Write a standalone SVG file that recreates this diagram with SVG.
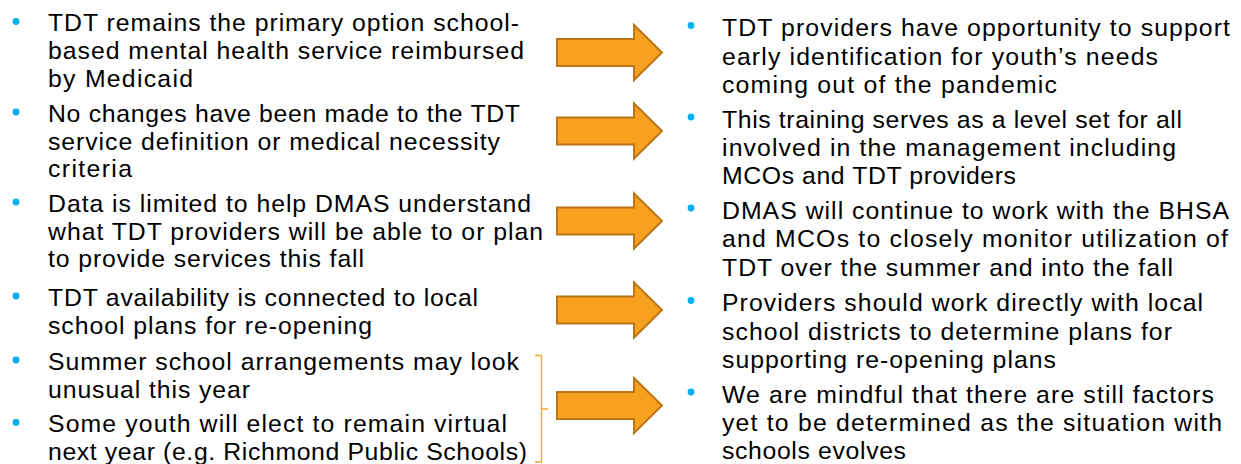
<svg xmlns="http://www.w3.org/2000/svg" width="1241" height="464" viewBox="0 0 1241 464">
<style>
text{font-family:"Liberation Sans",Arial,sans-serif;font-size:24.8px;fill:#000}
.b{fill:#00B0F0}
.arr{fill:#F8A11E;stroke:#BC7617;stroke-width:2;stroke-linejoin:miter}
.br{fill:none;stroke:#F5A33A;stroke-width:1.3}
</style>
<defs>
<path id="arrow" d="M0,-13.5 H77 V-27.5 L105,0 L77,27.5 V13.5 H0 Z"/>
</defs>
<rect width="1241" height="464" fill="#fff"/>
<g id="left-1"><circle class="b" cx="16" cy="21.5" r="3.4"/>
<text x="48" y="31" textLength="471" lengthAdjust="spacing">TDT remains the primary option school-</text>
<text x="48" y="59" textLength="476" lengthAdjust="spacing">based mental health service reimbursed</text>
<text x="48" y="87" textLength="145" lengthAdjust="spacing">by Medicaid</text></g>
<g id="left-2"><circle class="b" cx="16" cy="112" r="3.4"/>
<text x="48" y="121.5" textLength="472" lengthAdjust="spacing">No changes have been made to the TDT</text>
<text x="48" y="149.5" textLength="452" lengthAdjust="spacing">service definition or medical necessity</text>
<text x="48" y="177" textLength="84" lengthAdjust="spacing">criteria</text></g>
<g id="left-3"><circle class="b" cx="16" cy="202" r="3.4"/>
<text x="48" y="211.5" textLength="483" lengthAdjust="spacing">Data is limited to help DMAS understand</text>
<text x="48" y="239.5" textLength="495" lengthAdjust="spacing">what TDT providers will be able to or plan</text>
<text x="48" y="267" textLength="316" lengthAdjust="spacing">to provide services this fall</text></g>
<g id="left-4"><circle class="b" cx="16" cy="296" r="3.4"/>
<text x="48" y="305.5" textLength="430" lengthAdjust="spacing">TDT availability is connected to local</text>
<text x="48" y="333.5" textLength="324" lengthAdjust="spacing">school plans for re-opening</text></g>
<g id="left-5"><circle class="b" cx="16" cy="360" r="3.4"/>
<text x="48" y="369.5" textLength="471" lengthAdjust="spacing">Summer school arrangements may look</text>
<text x="48" y="397.5" textLength="202" lengthAdjust="spacing">unusual this year</text></g>
<g id="left-6"><circle class="b" cx="16" cy="422.5" r="3.4"/>
<text x="48" y="432" textLength="459" lengthAdjust="spacing">Some youth will elect to remain virtual</text>
<text x="48" y="460" textLength="479" lengthAdjust="spacing">next year (e.g. Richmond Public Schools)</text></g>
<g id="right-1"><circle class="b" cx="691" cy="25.5" r="3.4"/>
<text x="722" y="36" textLength="508" lengthAdjust="spacing">TDT providers have opportunity to support</text>
<text x="722" y="64.5" textLength="436" lengthAdjust="spacing">early identification for youth’s needs</text>
<text x="722" y="93" textLength="335" lengthAdjust="spacing">coming out of the pandemic</text></g>
<g id="right-2"><circle class="b" cx="691" cy="117" r="3.4"/>
<text x="722" y="127.5" textLength="460" lengthAdjust="spacing">This training serves as a level set for all</text>
<text x="722" y="156" textLength="454" lengthAdjust="spacing">involved in the management including</text>
<text x="722" y="184" textLength="294" lengthAdjust="spacing">MCOs and TDT providers</text></g>
<g id="right-3"><circle class="b" cx="691" cy="208" r="3.4"/>
<text x="722" y="218.5" textLength="507" lengthAdjust="spacing">DMAS will continue to work with the BHSA</text>
<text x="722" y="247" textLength="506" lengthAdjust="spacing">and MCOs to closely monitor utilization of</text>
<text x="722" y="275.5" textLength="451" lengthAdjust="spacing">TDT over the summer and into the fall</text></g>
<g id="right-4"><circle class="b" cx="691" cy="300.5" r="3.4"/>
<text x="722" y="311" textLength="481" lengthAdjust="spacing">Providers should work directly with local</text>
<text x="722" y="339.5" textLength="450" lengthAdjust="spacing">school districts to determine plans for</text>
<text x="722" y="368" textLength="334" lengthAdjust="spacing">supporting re-opening plans</text></g>
<g id="right-5"><circle class="b" cx="691" cy="392" r="3.4"/>
<text x="722" y="402.5" textLength="492" lengthAdjust="spacing">We are mindful that there are still factors</text>
<text x="722" y="431" textLength="500" lengthAdjust="spacing">yet to be determined as the situation with</text>
<text x="722" y="459" textLength="184" lengthAdjust="spacing">schools evolves</text></g>
<g id="connectors">
<use href="#arrow" class="arr" x="557" y="52.5"/>
<use href="#arrow" class="arr" x="557" y="131"/>
<use href="#arrow" class="arr" x="557" y="221"/>
<use href="#arrow" class="arr" x="557" y="310"/>
<use href="#arrow" class="arr" x="557" y="405.5"/>
<path class="br" d="M535,355.5 H541.5 V462 H535 M541.5,409 H548"/>
</g>
</svg>
